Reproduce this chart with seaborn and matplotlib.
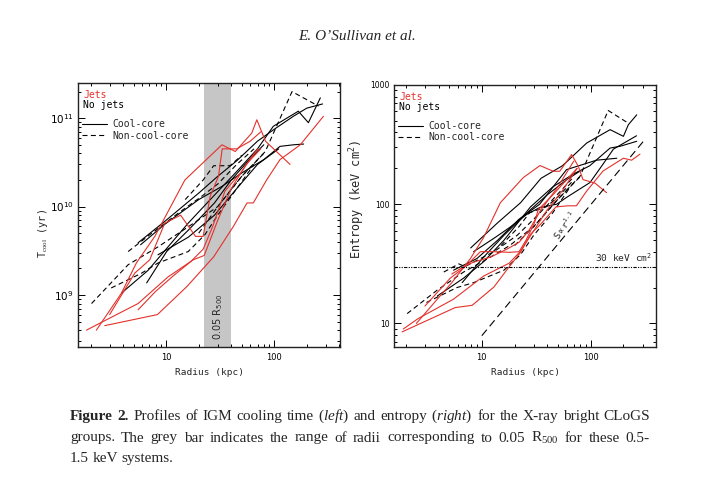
import numpy as np
import pandas as pd
import matplotlib
matplotlib.use("Agg")
import matplotlib.pyplot as plt
import matplotlib.ticker as mticker
from matplotlib.lines import Line2D
import seaborn as sns

# ---- cooling time profiles (radius in kpc, t_cool in yr) ----
tc_jets_r = [
    [2.7, 8.3, 15.6, 27.5, 42, 56, 64, 85, 113, 174, 285],
    [1.83, 2.6, 5.5, 10.4, 17.8, 22.5, 30, 40, 55, 75],
    [2.26, 3.86, 5.3, 7.85, 14.9, 32.8, 43.6, 62, 69, 83, 140],
    [3.0, 5.13, 7.05, 9.7, 13.6, 18.7, 22, 25.5, 30.5, 33, 45, 60, 75],
    [5.5, 8, 12, 17, 22, 27, 35, 50, 70],
]
tc_jets_t = [
    [4.5e8, 6e8, 1.25e9, 2.7e9, 6e9, 1.1e10, 1.1e10, 2e10, 3.4e10, 5e10, 1.05e11],
    [4e8, 5e8, 8e8, 1.6e9, 2.5e9, 2.8e9, 7e9, 1.6e10, 3e10, 4.5e10],
    [4e8, 1.05e9, 2.3e9, 4.6e9, 2e10, 5e10, 4.2e10, 6.8e10, 9.6e10, 5.5e10, 3e10],
    [6e8, 1.77e9, 2.5e9, 6.5e9, 8e9, 4.6e9, 4.6e9, 1.3e10, 2.2e10, 4.5e10, 4.5e10, 5.5e10, 7e10],
    [6.8e8, 1.1e9, 1.7e9, 2.4e9, 3.3e9, 6e9, 1.5e10, 2.5e10, 4.5e10],
]
tc_cc_r = [
    [5.5, 9.7, 20, 30, 45, 70, 100, 150, 200, 280],
    [5.8, 9.7, 20, 33, 50, 80, 113, 150, 187],
    [3.86, 6.8, 10.4, 16, 28, 45, 70, 98, 167, 207, 267],
    [6.6, 10.1, 16, 28, 40, 60, 80],
    [8.4, 16, 28, 45, 70, 110],
]
tc_cc_t = [
    [3.9e9, 6.8e9, 1.42e10, 2.2e10, 3.3e10, 5.5e10, 7.5e10, 1.05e11, 1.3e11, 1.45e11],
    [3.7e9, 6.3e9, 1.2e10, 1.7e10, 2.4e10, 3.4e10, 4.8e10, 5e10, 5.1e10],
    [1.05e9, 1.9e9, 3.5e9, 6.5e9, 1.35e10, 2.5e10, 4.5e10, 8.1e10, 1.2e11, 8.9e10, 1.7e11],
    [1.37e9, 3.1e9, 5.4e9, 1.1e10, 2e10, 3.5e10, 5e10],
    [2.85e9, 4.5e9, 8e9, 1.6e10, 3e10, 4.5e10],
]
tc_ncc_r = [
    [2.04, 4.45, 8.4, 18, 30, 50, 80],
    [4.45, 7.05, 12.9, 21.2, 30, 45, 65],
    [3.1, 5.9, 8.4, 16, 22.8, 30, 45, 65],
    [20, 30, 50, 82.6, 146, 257],
    [15, 22, 27.5, 39, 50],
]
tc_ncc_t = [
    [8e8, 2.2e9, 3.5e9, 6.5e9, 1e10, 2.2e10, 4e10],
    [3.1e9, 4.8e9, 8.4e9, 1.3e10, 1.8e10, 3e10, 4.5e10],
    [1.2e9, 1.76e9, 2.3e9, 3.1e9, 4.8e9, 8e9, 1.6e10, 3e10],
    [5e9, 1e10, 2.2e10, 4.2e10, 2e11, 1.37e11],
    [1.2e10, 2e10, 2.9e10, 2.9e10, 3.8e10],
]

# ---- entropy profiles (radius in kpc, K in keV cm^2) ----
s_jets_r = [
    [1.85, 5.7, 8.15, 12.9, 17.7, 22.7, 28, 34.7, 48, 62, 74, 92, 130, 200, 238, 284],
    [1.9, 2.6, 5.5, 10.4, 17.8, 22.5, 30, 40, 55, 75],
    [2.5, 3.9, 5.3, 7.85, 10.4, 14.8, 24, 34.2, 45.3, 52, 66.8, 77, 85, 110, 140],
    [3.0, 5.13, 7.05, 9.7, 12.9, 18, 22, 25.5, 30.5, 33, 45, 60, 75],
    [5.3, 7.1, 8.4, 12, 17, 22, 27, 35, 50, 70],
]
s_jets_k = [
    [8.5, 13.6, 14.2, 20.2, 29.6, 39.5, 56, 68, 95, 97, 97, 129, 190, 243, 234, 263],
    [9, 11, 16, 25, 32, 40, 60, 90, 130, 200],
    [10, 16, 22, 35, 52.7, 103, 167, 211, 189, 189, 261, 208, 161, 150, 125],
    [14, 24, 30, 40, 40, 39.5, 40, 50, 70, 90, 120, 160, 200],
    [26, 30.6, 32.7, 36, 42, 48, 60, 90, 140, 230],
]
s_cc_r = [
    [7.9, 14, 22.7, 35, 55, 92, 151, 200, 222, 265],
    [5.5, 9, 14, 22, 34, 60, 113, 174],
    [3.9, 6.8, 10.4, 16, 28, 45, 70, 98, 151, 186, 265],
    [6.6, 10.1, 16, 28, 40, 60, 80],
    [8.4, 13, 18.1, 25.8, 34.2, 48.7, 60, 98.6, 130, 162, 264],
]
s_cc_k = [
    [43, 70, 103, 165, 210, 326, 422, 371, 464, 562],
    [28, 35, 50, 75, 100, 195, 234, 243],
    [17, 24, 33, 50, 95, 140, 180, 210, 296, 306, 337],
    [22, 35, 55, 90, 120, 160, 190],
    [40, 52, 64, 82, 94, 100, 114, 152, 217, 290, 375],
]
s_ncc_r = [
    [2.06, 3.88, 6.8, 12, 18, 30, 50, 80],
    [4.47, 6.15, 7, 12.9, 21.2, 30, 45, 70],
    [3.1, 5.9, 8.4, 16, 22.8, 30, 45, 65],
    [20, 30, 50, 80, 145, 222],
    [15, 22, 27.5, 39, 50, 70],
]
s_ncc_k = [
    [12.1, 19, 27, 36, 45, 65, 110, 170],
    [27, 31.6, 30, 40, 55, 75, 110, 170],
    [15, 20, 22, 28, 38, 55, 85, 140],
    [45, 65, 110, 172, 611, 478],
    [45, 65, 85, 95, 115, 160],
]

# reference lines / regions
r500_band = [22.6, 39.7]          # 0.05 R500 range, kpc
k_floor = 30                       # keV cm^2
slope_r = [10, 316]                # S ~ r^1.1 guide (end points)
slope_k = [7.9, 350]

RED = "#e4312b"


def build_frame(groups):
    rows = []
    unit = 0
    for r_lists, v_lists, jets, core in groups:
        for rs, vs in zip(r_lists, v_lists):
            for r, v in zip(rs, vs):
                rows.append({"r": r, "v": v, "unit": unit, "jets": jets, "core": core})
            unit += 1
    return pd.DataFrame(rows)


tc_df = build_frame([
    (tc_cc_r, tc_cc_t, "No jets", "Cool-core"),
    (tc_ncc_r, tc_ncc_t, "No jets", "Non-cool-core"),
    (tc_jets_r, tc_jets_t, "Jets", "Cool-core"),
])
s_df = build_frame([
    (s_cc_r, s_cc_k, "No jets", "Cool-core"),
    (s_ncc_r, s_ncc_k, "No jets", "Non-cool-core"),
    (s_jets_r, s_jets_k, "Jets", "Cool-core"),
])

sns.set_style("ticks")
plt.rcParams["font.family"] = ["DejaVu Sans"]
plt.rcParams["mathtext.fontset"] = "custom"
plt.rcParams["mathtext.rm"] = "Liberation Serif"
plt.rcParams["mathtext.it"] = "Liberation Serif:italic"
plt.rcParams["mathtext.bf"] = "Liberation Serif:bold"
plt.rcParams["mathtext.default"] = "regular"

MONO = "DejaVu Sans Mono"
palette = {"Jets": RED, "No jets": "black"}
dashes = {"Cool-core": "", "Non-cool-core": (4.5, 3)}

fig = plt.figure(figsize=(7.03, 4.87), dpi=100)
ax1 = fig.add_axes([0.111, 0.2875, 0.373, 0.542])
ax2 = fig.add_axes([0.5605, 0.2875, 0.3727, 0.538])

for ax, df in ((ax1, tc_df), (ax2, s_df)):
    sns.lineplot(data=df, x="r", y="v", hue="jets", style="core", units="unit",
                 estimator=None, sort=False, palette=palette, dashes=dashes,
                 lw=0.8, legend=False, ax=ax)
    ax.set_xscale("log")
    ax.set_yscale("log")

# left panel
ax1.axvspan(r500_band[0], r500_band[1], color="#c6c6c6", lw=0, zorder=0)
ax1.text(np.sqrt(r500_band[0] * r500_band[1]), 5.6e8, "0.05 R$_{500}$",
         rotation=90, ha="center", va="center", fontsize=7, family="DejaVu Sans")
ax1.set_xlim(1.53, 408)
ax1.set_ylim(2.58e8, 2.5e11)
ax1.set_ylabel(r"T$_{\rm cool}$ (yr)", family=MONO, fontsize=7.3)
ax1.yaxis.set_label_coords(-0.107, 0.43)
ax1.tick_params(axis="y", which="major", labelsize=7.5, pad=3)

# right panel
ax2.axhline(k_floor, color="black", lw=0.8, ls=(0, (3, 1.2, 1, 1.2, 1, 1.2)))
ax2.plot(slope_r, slope_k, color="black", lw=0.8, ls=(0, (7, 4)))
ax2.text(0.985, 31.5, "30 keV cm$^2$", transform=ax2.get_yaxis_transform(),
         ha="right", va="bottom", family=MONO, fontsize=6.8)
ax2.text(58, 66, r"S$\propto$r$^{1.1}$", rotation=55, ha="center", va="center",
         family=MONO, fontsize=6.5)
ax2.set_xlim(1.56, 399)
ax2.set_ylim(6.35, 1000)
ax2.set_ylabel("Entropy (keV cm$^2$)", family=MONO, fontsize=8.6)
ax2.yaxis.set_label_coords(-0.103, 0.565)
ax2.yaxis.set_major_formatter(mticker.FuncFormatter(lambda v, p: f"{v:g}"))
ax2.tick_params(axis="y", which="major", labelsize=5.5, pad=3)

for ax in (ax1, ax2):
    ax.set_xlabel("Radius (kpc)", family=MONO, fontsize=6.8, labelpad=5)
    ax.xaxis.set_major_formatter(mticker.FuncFormatter(lambda v, p: f"{v:g}"))
    ax.tick_params(which="both", direction="in", top=True, right=True,
                   width=0.7, colors="black")
    ax.tick_params(axis="x", which="major", labelsize=6, pad=4)
    ax.tick_params(which="major", length=5)
    ax.tick_params(which="minor", length=2.5)
    for sp in ax.spines.values():
        sp.set_linewidth(1.0)
        sp.set_color("#222222")
    ax.text(0.019, 0.975, "Jets", color=RED, transform=ax.transAxes,
            ha="left", va="top", family=MONO, fontsize=7)
    ax.text(0.019, 0.935, "No jets", color="black", transform=ax.transAxes,
            ha="left", va="top", family=MONO, fontsize=7)
    handles = [Line2D([], [], color="black", lw=0.8),
               Line2D([], [], color="black", lw=0.8, ls=(0, (4.5, 3)))]
    ax.legend(handles, ["Cool-core", "Non-cool-core"], loc="upper left",
              bbox_to_anchor=(0.008, 0.87), frameon=False, handlelength=2.6,
              handletextpad=0.55, labelspacing=0.15, borderpad=0.2,
              borderaxespad=0.0, prop={"family": MONO, "size": 7})

# page header
fig.text(357 / 703, 1 - 37 / 487, "E. O\u2019Sullivan et al.", ha="center", va="center",
         family="Liberation Serif", style="italic", fontsize=11)

# caption, justified between x0 and x1 pixels
caption = [
    [("Figure", "bold"), ("2.", "bold"), "Profiles", "of", "IGM", "cooling", "time",
     r"($\it{left}$)", "and", "entropy", r"($\it{right}$)", "for", "the", "X-ray",
     "bright", "CLoGS"],
    ["groups.", "The", "grey", "bar", "indicates", "the", "range", "of", "radii",
     "corresponding", "to", "0.05", "R$_{500}$", "for", "these", "0.5-"],
    ["1.5", "keV", "systems."],
]
line_y = [416.5, 438, 458.5]
x0, x1 = 70, 650
renderer = fig.canvas.get_renderer()
for i, (words, yp) in enumerate(zip(caption, line_y)):
    arts = []
    for w in words:
        txt, weight = (w if isinstance(w, tuple) else (w, "normal"))
        arts.append(fig.text(0, 1 - yp / 487, txt, family="Liberation Serif",
                             fontsize=11, fontweight=weight, va="center", ha="left"))
    widths = [a.get_window_extent(renderer).width for a in arts]
    if i < len(caption) - 1:
        gap = (x1 - x0 - sum(widths)) / (len(words) - 1)
    else:
        gap = 3.5
    x = x0
    for a, w in zip(arts, widths):
        a.set_x(x / 703)
        x += w + gap

fig.savefig("out.png", dpi=100)
